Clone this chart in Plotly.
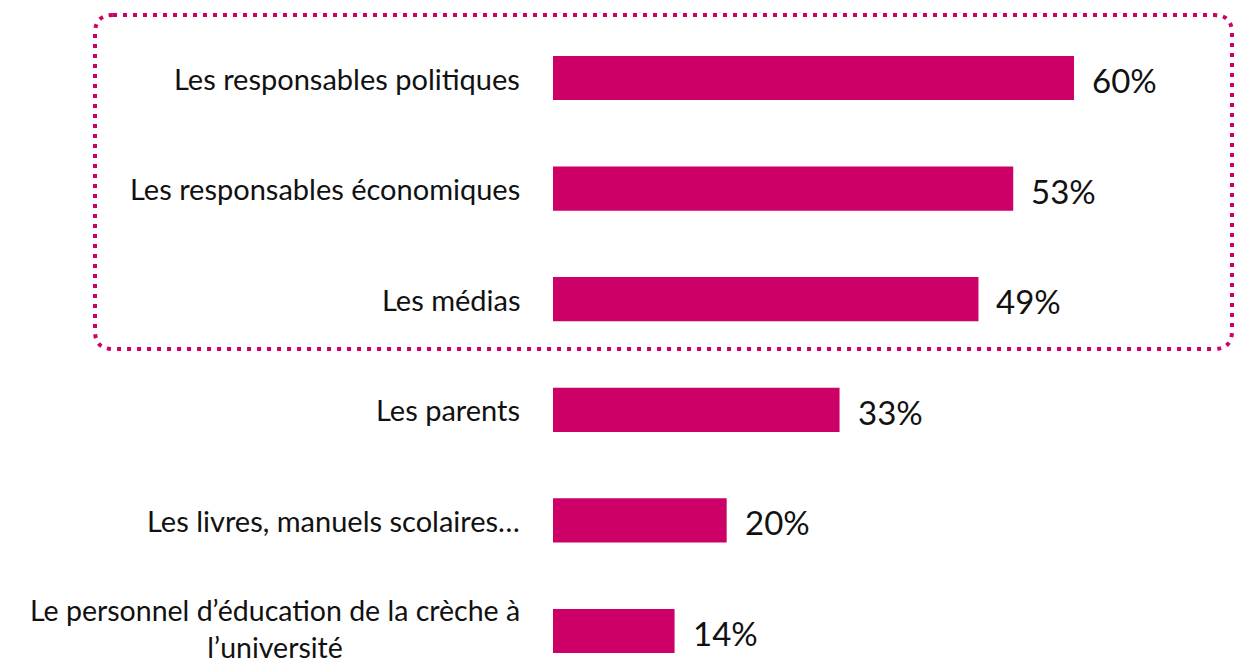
import plotly.graph_objects as go

categories = [
    "Les responsables politiques",
    "Les responsables économiques",
    "Les médias",
    "Les parents",
    "Les livres, manuels scolaires…",
    "Le personnel d’éducation de la crèche à<br>l’université",
]
values = [60, 53, 49, 33, 20, 14]
value_labels = ["60%", "53%", "49%", "33%", "20%", "14%"]

W, H = 1236, 662
BAR = "#CC0066"
FONT = "Lato"

idx = list(range(len(categories)))

fig = go.Figure()
fig.add_trace(go.Bar(
    x=values, y=idx, orientation="h", width=0.4,
    marker=dict(color=BAR, line=dict(width=0)),
    hoverinfo="skip",
))

annotations = []
for i, (c, v, t) in enumerate(zip(categories, values, value_labels)):
    multi = "<br>" in c
    annotations.append(dict(
        x=522 / W, xref="paper", y=i, yref="y", text=c, showarrow=False,
        xanchor="right", yanchor="middle", align="center",
        yshift=3 if multi else 0,
        font=dict(family=FONT, size=29 if not multi else 28.5, color="#111111"),
    ))
    annotations.append(dict(
        x=v, xref="x", y=i, yref="y", text=t, showarrow=False,
        xanchor="left", yanchor="middle", xshift=16, yshift=-2,
        font=dict(family=FONT, size=33, color="#111111"),
    ))

def px(x, y):
    return f"{x / W:.5f},{1 - y / H:.5f}"

L, T, R, B, r = 95, 15, 1232, 349, 18
path = (
    f"M {px(L + r, T)} L {px(R - r, T)} Q {px(R, T)} {px(R, T + r)} "
    f"L {px(R, B - r)} Q {px(R, B)} {px(R - r, B)} "
    f"L {px(L + r, B)} Q {px(L, B)} {px(L, B - r)} "
    f"L {px(L, T + r)} Q {px(L, T)} {px(L + r, T)} Z"
)

scale = 521 / 60.0
fig.update_layout(
    width=W, height=H,
    margin=dict(l=0, r=0, t=0, b=0),
    paper_bgcolor="white", plot_bgcolor="white",
    showlegend=False,
    xaxis=dict(domain=[553 / W, 1], range=[0, (W - 553) / scale],
               visible=False, fixedrange=True),
    yaxis=dict(range=[(H - 78) / 110.6, -78 / 110.6], visible=False,
               fixedrange=True),
    annotations=annotations,
    shapes=[dict(type="path", xref="paper", yref="paper", path=path,
                 line=dict(color=BAR, width=4, dash="4px,6px"),
                 fillcolor="rgba(0,0,0,0)")],
)

fig.write_html("out.html", config={"displayModeBar": False})

with open("out.html", encoding="utf-8") as f:
    html = f.read()
html = html.replace("<head>", "<head><style>html,body{margin:0;padding:0;overflow:hidden;}</style>", 1)
with open("out.html", "w", encoding="utf-8") as f:
    f.write(html)
